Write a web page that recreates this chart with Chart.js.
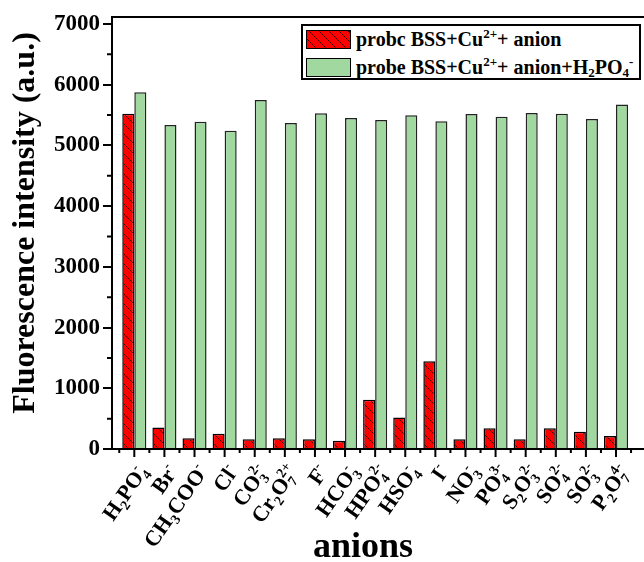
<!DOCTYPE html>
<html>
<head>
<meta charset="utf-8">
<script src="https://cdn.jsdelivr.net/npm/chart.js@4.4.0/dist/chart.umd.min.js"></script>
<style>
  body { margin: 0; background: #fff; }
  #wrap { position: relative; width: 644px; height: 562px; }
  #legend {
    position: absolute; left: 301px; top: 24px; width: 336px; height: 52px;
    border: 2px solid #000; background: #fff;
    font: bold 20px "Liberation Serif", "Times New Roman", serif; color: #000;
  }
  .row { position: absolute; left: 3px; height: 19px; white-space: nowrap; }
  .sw { position: absolute; left: 0; top: 0; width: 43px; height: 17px; border: 1px solid #000; }
  .txt { position: absolute; left: 50px; top: -3px; line-height: 24px; }
  .txt sup, .txt sub { font-size: 13px; line-height: 0; }
  .txt sup { vertical-align: 8px; }
  .txt sub { vertical-align: -3px; }
  .red { background: repeating-linear-gradient(45deg, #f00 0px, #f00 6px, #300 6px, #300 7px); }
  .green { background: #a0d8a0; }
</style>
</head>
<body>
<div id="wrap">
  <canvas id="chart" width="644" height="562"></canvas>
  <div id="legend">
    <div class="row" style="top:4px"><div class="sw red"></div>
      <div class="txt">probc BSS+Cu<sup>2+</sup>+ anion</div></div>
    <div class="row" style="top:32px"><div class="sw green"></div>
      <div class="txt">probe BSS+Cu<sup>2+</sup>+ anion+H<sub>2</sub>PO<sub>4</sub><sup>-</sup></div></div>
  </div>
</div>
<script>
// anion names, _{..} = subscript, ^{..} = superscript
const anions = ["H_{2}PO_{4}^{-}", "Br^{-}", "CH_{3}COO^{-}", "Cl^{-}", "CO_{3}^{2-}", "Cr_{2}O_{7}^{2+}",
  "F^{-}", "HCO_{3}^{-}", "HPO_{4}^{2-}", "HSO_{4}^{-}", "I^{-}", "NO_{3}^{-}", "PO_{4}^{3-}",
  "S_{2}O_{3}^{2-}", "SO_{4}^{2-}", "SO_{3}^{2-}", "P_{2}O_{7}^{4-}"];
const anionOnly = [5520, 355, 175, 250, 160, 175, 160, 137, 810, 517, 1446, 160, 341, 160, 341, 286, 215];
const withH2PO4 = [5875, 5335, 5390, 5240, 5750, 5370, 5528, 5450, 5418, 5495, 5396, 5517, 5473, 5533, 5522, 5435, 5672];
const yTicks = [0, 1000, 2000, 3000, 4000, 5000, 6000, 7000];

const serif = '"Liberation Serif", "Times New Roman", serif';

function hatch() {
  const c = document.createElement("canvas");
  c.width = 10; c.height = 10;
  const g = c.getContext("2d");
  g.fillStyle = "#ff0000";
  g.fillRect(0, 0, 10, 10);
  g.strokeStyle = "rgba(40,0,0,0.85)";
  g.lineWidth = 1;
  g.beginPath();
  g.moveTo(0, 0); g.lineTo(10, 10);
  g.moveTo(-5, 5); g.lineTo(5, 15);
  g.moveTo(5, -5); g.lineTo(15, 5);
  g.stroke();
  return g.createPattern(c, "repeat");
}

function drawRich(ctx, str, size) {
  const big = "bold " + size + "px " + serif;
  const small = "bold " + Math.round(size * 0.62) + "px " + serif;
  const parts = [];
  const re = /([_^])\{([^}]*)\}|([^_^]+)/g;
  let m;
  while ((m = re.exec(str))) {
    if (m[3]) parts.push({ t: m[3], k: "n" });
    else parts.push({ t: m[2], k: m[1] === "_" ? "sub" : "sup" });
  }
  let cur = 0, lastSub = null;
  parts.forEach(p => {
    ctx.font = p.k === "n" ? big : small;
    p.w = ctx.measureText(p.t).width;
    if (p.k === "sup" && lastSub) {
      p.x = lastSub.x;
      cur = lastSub.x + Math.max(lastSub.w, p.w);
    } else {
      p.x = cur;
      cur += p.w;
    }
    lastSub = p.k === "sub" ? p : null;
  });
  parts.forEach(p => {
    ctx.font = p.k === "n" ? big : small;
    let dy = size * 0.35;
    if (p.k === "sub") dy += size * 0.22;
    if (p.k === "sup") dy -= size * 0.42;
    ctx.fillText(p.t, p.x - cur, dy);
  });
}

const extras = {
  id: "extras",
  afterDraw(chart) {
    const ctx = chart.ctx;
    const x = chart.scales.x, y = chart.scales.y;
    const a = chart.chartArea;
    ctx.save();
    ctx.strokeStyle = "#000";
    ctx.lineWidth = 2;
    // top frame
    ctx.beginPath();
    ctx.moveTo(a.left - 1, a.top);
    ctx.lineTo(a.right, a.top);
    ctx.stroke();
    // minor y ticks
    ctx.beginPath();
    for (let v = 500; v < 7000; v += 1000) {
      const py = y.getPixelForValue(v);
      ctx.moveTo(a.left - 5, py);
      ctx.lineTo(a.left, py);
    }
    // x ticks
    anions.forEach((n, i) => {
      const px = x.getPixelForValue(i);
      ctx.moveTo(px, a.bottom);
      ctx.lineTo(px, a.bottom + 8);
      const mx = x.getPixelForValue(i - 0.5);
      ctx.moveTo(mx, a.bottom);
      ctx.lineTo(mx, a.bottom + 4);
    });
    const endx = x.getPixelForValue(anions.length - 0.5);
    ctx.moveTo(endx, a.bottom);
    ctx.lineTo(endx, a.bottom + 4);
    ctx.stroke();
    // x labels
    ctx.fillStyle = "#000";
    ctx.textBaseline = "alphabetic";
    ctx.textAlign = "left";
    anions.forEach((n, i) => {
      const px = x.getPixelForValue(i);
      ctx.save();
      ctx.translate(px + 8, a.bottom + 18);
      ctx.rotate(-55 * Math.PI / 180);
      drawRich(ctx, n, 22);
      ctx.restore();
    });
    // axis titles
    ctx.textAlign = "center";
    ctx.font = "bold 36px " + serif;
    ctx.fillText("anions", 363, 557);
    ctx.save();
    ctx.translate(34, 223);
    ctx.rotate(-Math.PI / 2);
    ctx.font = "bold 32px " + serif;
    ctx.fillText("Fluorescence intensity (a.u.)", 0, 0);
    ctx.restore();
    ctx.restore();
  }
};

const redPattern = hatch();

new Chart(document.getElementById("chart"), {
  type: "bar",
  data: {
    datasets: [
      {
        label: "probc BSS+Cu2++ anion",
        data: anionOnly.map((v, i) => ({ x: i, y: v })),
        backgroundColor: redPattern,
        borderColor: "#000",
        borderWidth: 1.5
      },
      {
        label: "probe BSS+Cu2++ anion+H2PO4-",
        data: withH2PO4.map((v, i) => ({ x: i, y: v })),
        backgroundColor: "#a0d8a0",
        borderColor: "#222",
        borderWidth: 1.5
      }
    ]
  },
  options: {
    responsive: false,
    animation: false,
    categoryPercentage: 0.8,
    barPercentage: 1.0,
    layout: { padding: { top: 17, right: 0, left: 0, bottom: 0 } },
    plugins: { legend: { display: false }, tooltip: { enabled: false } },
    scales: {
      x: {
        type: "linear",
        offset: false,
        min: -0.741,
        max: 16.93,
        ticks: { display: false },
        grid: { display: false },
        border: { color: "#000", width: 2 },
        afterFit: s => { s.height = 113; }
      },
      y: {
        min: 0,
        max: 7115,
        afterBuildTicks: s => { s.ticks = yTicks.map(v => ({ value: v })); },
        ticks: {
          color: "#000",
          padding: 3,
          font: { family: serif, size: 23, weight: "bold" },
          callback: v => String(v)
        },
        grid: { drawOnChartArea: false, drawTicks: true, tickLength: 9, color: "#000", lineWidth: 2 },
        border: { color: "#000", width: 2 },
        afterFit: s => { s.width = 112; }
      }
    }
  },
  plugins: [extras]
});
</script>
</body>
</html>
